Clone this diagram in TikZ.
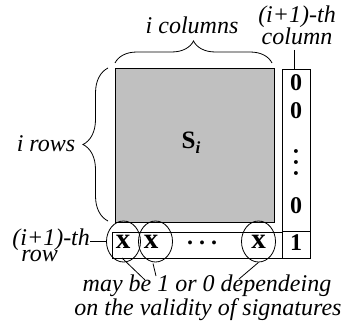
\documentclass[tikz,border=0pt]{standalone}
\usepackage{fontspec}
\setmainfont{Liberation Serif}
\usetikzlibrary{shapes.geometric,decorations.pathreplacing}
\tikzset{
  lab/.style={font=\fontsize{24}{23}\selectfont\itshape, inner sep=0pt},
  cell/.style={font=\fontsize{24}{24}\selectfont\bfseries, inner sep=0pt},
  xcell/.style={font=\fontsize{29}{29}\selectfont\bfseries, inner sep=0pt},
  sig/.style={draw, ellipse, minimum width=34pt, minimum height=41pt, inner sep=0pt},
  bracestyle/.style={decorate, decoration={brace, amplitude=#1}},
}
\begin{document}
\begin{tikzpicture}[x=1pt,y=-1pt,line width=0.8pt]
\useasboundingbox (0,0) rectangle (344,326);
% main gray block
\node[draw, line width=0.5pt, fill={rgb,255:red,192;green,192;blue,192}, minimum width=159pt, minimum height=154pt, inner sep=0pt] (S) at (194.5,145) {};
\node[inner sep=0pt, anchor=base] (Si) at (191,148) {\fontsize{25}{25}\selectfont\bfseries S\raisebox{-0.22em}{\fontsize{17}{17}\selectfont\bfseries\itshape i}};
% column box
\node[draw, minimum width=28pt, minimum height=189pt, inner sep=0pt] (col) at (296,163.5) {};
% row box
\node[draw, minimum width=170pt, minimum height=26pt, inner sep=0pt] (row) at (197,245) {};
\draw (row.north east) -- (col.east |- row.north);
% column entries
\node[cell, anchor=base] (c1) at (296,90.5) {0};
\node[cell, anchor=base] (c2) at (296,118.5) {0};
\node[cell] (cd) at (296,162) {\rotatebox{90}{.\hspace{5pt}.\hspace{5pt}.}};
\node[cell, anchor=base] (c3) at (296,213.5) {0};
\node[cell, anchor=base] (one) at (296,250) {1};
% row entries
\node[xcell, anchor=base] (x1) at (123,248) {x};
\node[xcell, anchor=base] (x2) at (151,248) {x};
\node[cell, anchor=base] (dots) at (202,244) {.\hspace{6pt}.\hspace{6pt}.};
\node[xcell, anchor=base] (x3) at (258.5,248) {x};
% ellipses
\node[sig] (e1) at (123.5,241.5) {};
\node[sig] (e2) at (155.5,241.5) {};
\node[sig] (e3) at (258.5,241.5) {};
% labels
\node[lab, anchor=base] (icol) at (192,34) {i columns};
\node[lab, anchor=base] (colA) at (297,23) {(i+1)-th};
\node[lab, anchor=base] (colB) at (297,45) {column};
\node[lab, anchor=base] (irows) at (46,151) {i rows};
\node[lab, align=left, anchor=north west] (rowlab) at (12,228) {(i+1)-th\\[-7pt]\hspace*{9pt}row};
\node[lab, anchor=base] (m1) at (207,291) {may be 1 or 0 dependeing};
\node[lab, anchor=base] (m2) at (208,315) {on the validity of signatures};
% braces
\coordinate (tbL) at (115,63);
\coordinate (tbR) at (272,63);
\draw[bracestyle=22pt] (tbL) -- (tbR);
\coordinate (lbB) at (108,221);
\coordinate (lbT) at (108,68);
\draw[bracestyle=25pt] (lbB) -- (lbT);
% leader lines
\coordinate (cl) at (294,50);
\draw (cl) -- (cl |- col.north);
\draw (rowlab.east |- e1.west) -- (e1.west);
\coordinate (p1) at (122,258);
\coordinate (q1) at (145,280);
\draw (p1) -- (q1);
\coordinate (p2) at (153,263.5);
\coordinate (q2) at (156,276);
\draw (p2) -- (q2);
\coordinate (q3) at (239,279);
\draw (e3.south) -- (q3);
\end{tikzpicture}
\end{document}
